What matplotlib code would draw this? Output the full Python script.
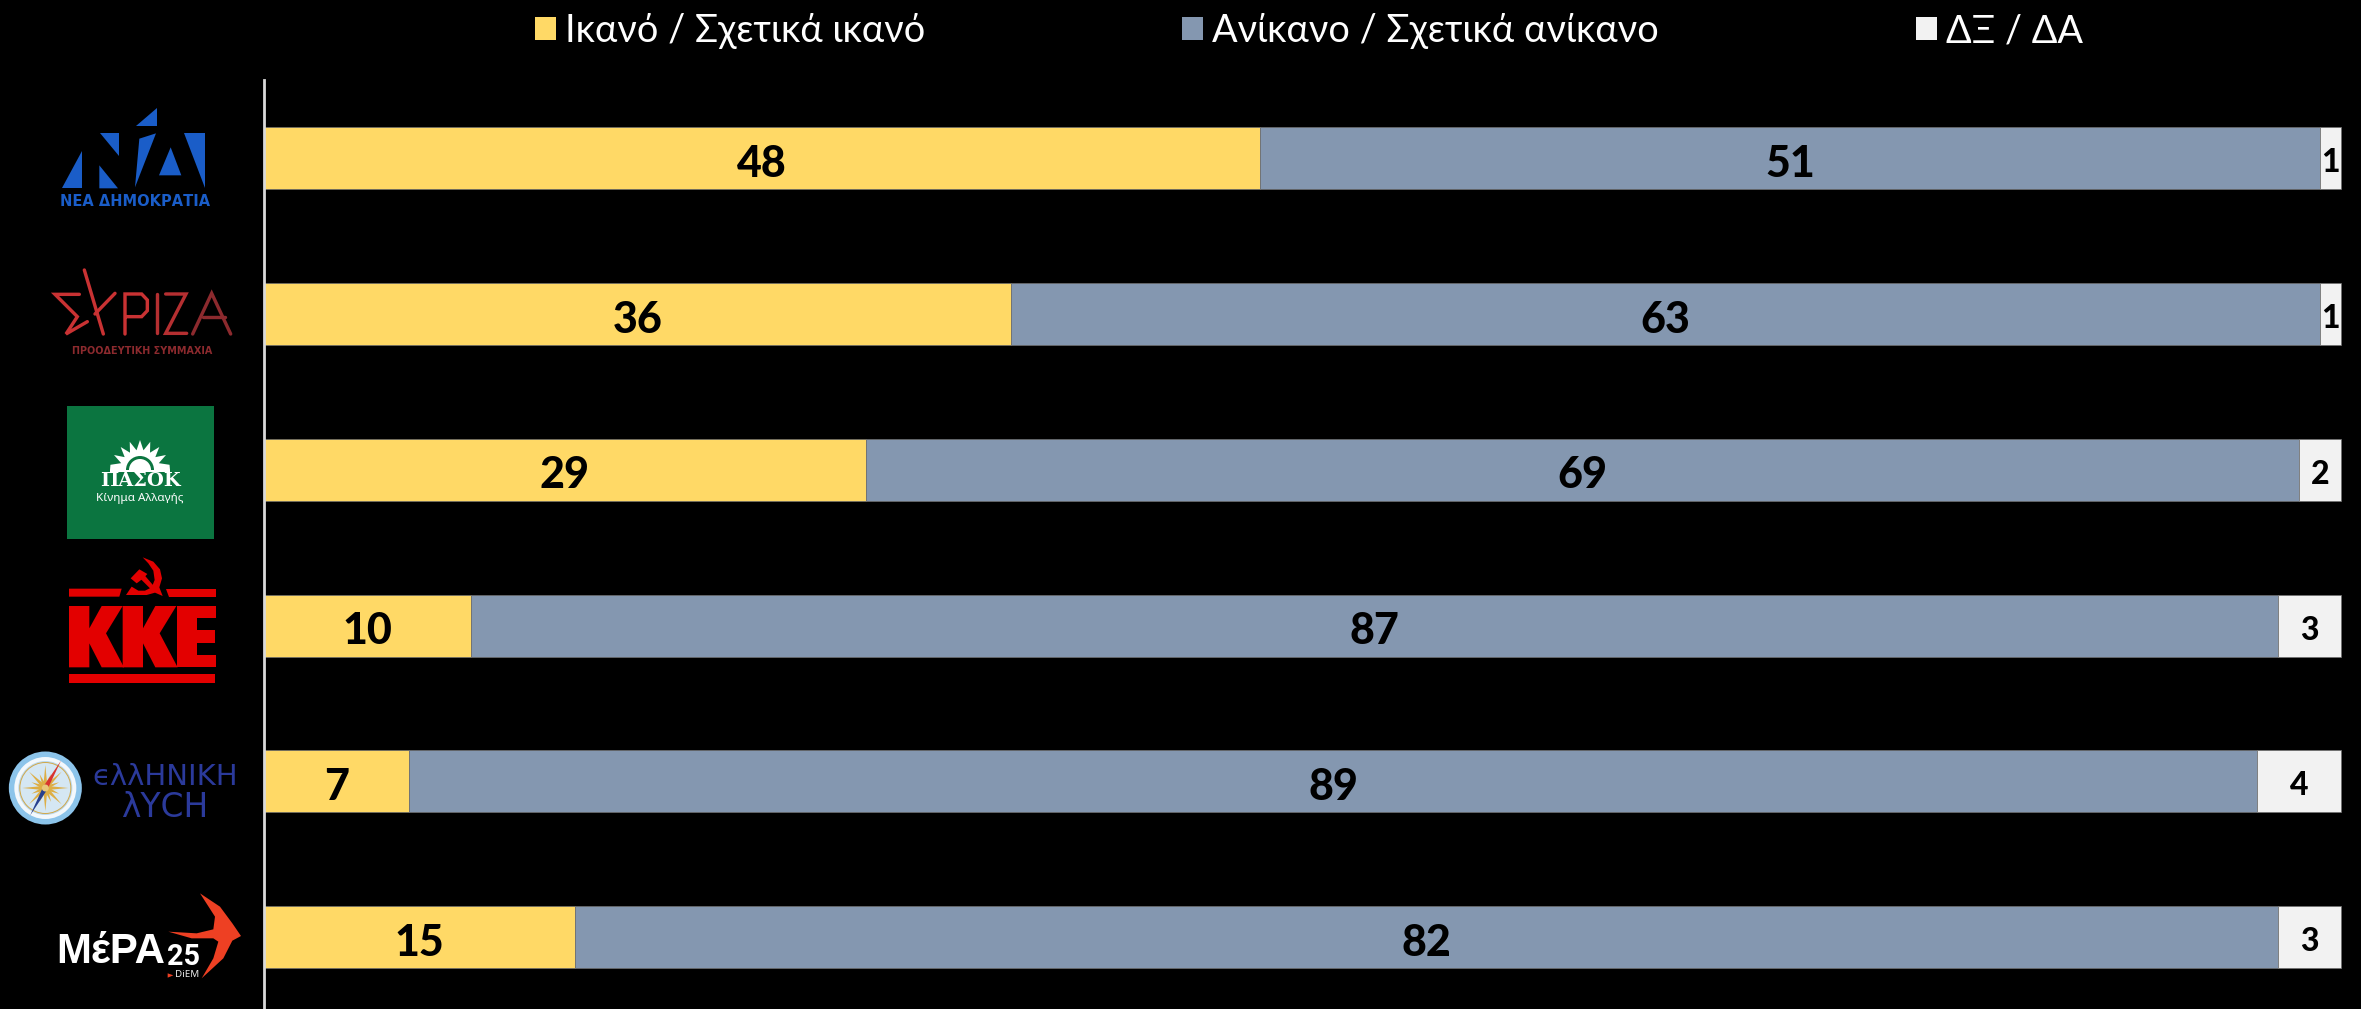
import numpy as np
import matplotlib
matplotlib.use("Agg")
import matplotlib.pyplot as plt
from matplotlib.patches import Polygon, Rectangle, Circle, Wedge

parties = ["ΝΕΑ ΔΗΜΟΚΡΑΤΙΑ", "ΣΥΡΙΖΑ", "ΠΑΣΟΚ", "ΚΚΕ", "ΕΛΛΗΝΙΚΗ ΛΥΣΗ", "ΜέΡΑ25"]
capable = [48, 36, 29, 10, 7, 15]
incapable = [51, 63, 69, 87, 89, 82]
dk_na = [1, 1, 2, 3, 4, 3]
series_names = ["Ικανό / Σχετικά ικανό", "Ανίκανο / Σχετικά ανίκανο", "ΔΞ / ΔΑ"]
series_colors = ["#FFD966", "#8497B0", "#F2F2F2"]

W, H = 2361, 1009
LABEL_FONT = ["Lato", "Noto Sans", "DejaVu Sans"]
LEGEND_FONT = ["Lato", "Noto Sans", "DejaVu Sans"]
fig = plt.figure(figsize=(W / 100, H / 100), dpi=100, facecolor="black")

# --- chart ---------------------------------------------------------------
AX_L, AX_T, PX_UNIT, PX_BAND = 263.5, 80.4, 20.77, 155.75
ax = fig.add_axes([AX_L / W, 0, (W - AX_L) / W, (H - AX_T) / H], facecolor="black")
y = np.arange(len(parties))
left = np.zeros(len(parties))
for vals, name, col in zip([capable, incapable, dk_na], series_names, series_colors):
    ax.barh(y, vals, left=left, height=0.398, color=col, edgecolor="#6f6f6f",
            linewidth=0.5, label=name)
    for yi, l, v in zip(y, left, vals):
        small = v < 5
        ax.annotate(str(v), (l + v / 2, yi), xytext=(0, -1.5), textcoords="offset points",
                    ha="center", va="center_baseline", color="black",
                    fontweight="black", family=LABEL_FONT, fontsize=23 if small else 31)
    left += np.array(vals)

ax.set_xlim(0, (W - AX_L) / PX_UNIT)
ax.set_ylim((H - AX_T) / PX_BAND - 0.5, -0.5)
ax.set_yticks(y, labels=parties)
ax.tick_params(left=False, labelleft=False, bottom=False, labelbottom=False)
for s in ["top", "right", "bottom"]:
    ax.spines[s].set_visible(False)
ax.spines["left"].set_color("#D9D9D9")
ax.spines["left"].set_linewidth(2.0)

FS = 27.3
FPX = FS / 0.72
leg = ax.legend(loc="center left", bbox_to_anchor=(535 / W, 1 - 31 / H),
                bbox_transform=fig.transFigure, ncol=3, frameon=False,
                prop={"family": LEGEND_FONT, "size": FS},
                labelcolor="white", borderpad=0, borderaxespad=0,
                handlelength=21 / FPX, handleheight=21 / FPX,
                handletextpad=9 / FPX, columnspacing=257 / FPX)
for h in leg.legend_handles:
    h.set_edgecolor("none")

# --- logos (pixel overlay) ---------------------------------------------------
ov = fig.add_axes([0, 0, 1, 1], facecolor="none")
ov.set_xlim(0, W)
ov.set_ylim(H, 0)
ov.axis("off")


def z1(p):
    return [(a / 3, 60 + b / 3) for a, b in p]


def z2(p):
    return [(a / 3, 550 + b / 3) for a, b in p]


def z3(p):
    return [(110 + a / 3, 550 + b / 3) for a, b in p]


def poly(pts, col, **kw):
    ov.add_patch(Polygon(pts, closed=True, facecolor=col, edgecolor="none", **kw))


def line(pts, col, lw):
    xs, ys = zip(*pts)
    ov.plot(xs, ys, color=col, lw=lw * 0.72, solid_capstyle="round", solid_joinstyle="miter")


def fit(xc, yc, s, width, col, **kw):
    t = ov.text(xc, yc, s, ha="center", va="center", color=col, fontsize=10, **kw)
    r = fig.canvas.get_renderer()
    t.set_fontsize(10 * width / t.get_window_extent(r).width)
    return t


# Nea Dimokratia
ND = "#1A5DC8"
for tri in [
    [(470, 145), (470, 197), (408, 197)],
    [(246, 272), (246, 385), (186, 385)],
    [(300, 220), (356, 220), (356, 287)],
    [(298, 316), (354, 385), (298, 385)],
    [(468, 220), (418, 236), (405, 382)],
    [(512, 262), (544, 346), (477, 346)],
    [(552, 220), (615, 220), (615, 383)],
]:
    poly(z1(tri), ND)
fit(135.5, 60 + 425 / 3, "ΝΕΑ ΔΗΜΟΚΡΑΤΙΑ", 149, ND, family="DejaVu Sans", fontweight="bold")

# Syriza
SR, SD = "#C93233", "#8C2A2E"
line(z1([(238, 703), (165, 703), (232, 770), (198, 822), (262, 785)]), SR, 3.4)
line(z1([(253, 630), (310, 822)]), SR, 3.4)
line(z1([(345, 700), (285, 762)]), SR, 3.4)
line(z1([(375, 822), (375, 702), (425, 702), (442, 720), (442, 752), (425, 770), (378, 770)]), SR, 3.4)
line(z1([(472, 702), (472, 820)]), "#B52F31", 3.4)
line(z1([(497, 702), (558, 702), (497, 820), (560, 820)]), "#B52F31", 3.4)
line(z1([(578, 822), (635, 700), (692, 822)]), SD, 3.4)
line(z1([(610, 770), (675, 770)]), SD, 3.4)
fit(142.5, 60 + 873 / 3, "ΠΡΟΟΔΕΥΤΙΚΗ ΣΥΜΜΑΧΙΑ", 140, SD, family="DejaVu Sans", fontweight="bold")

# PASOK
PG = "#0B7540"
a, b = z1([(202, 1038)])[0]
ov.add_patch(Rectangle((a, b), 440 / 3, 399 / 3, facecolor=PG, edgecolor="none"))
cx, cy = 140, 470
sun = [(cx - 30, cy)]
for i, ang in enumerate(np.linspace(170, 10, 17)):
    r = 30 if i % 2 == 0 else 20
    sun.append((cx + r * np.cos(np.radians(ang)), cy - r * np.sin(np.radians(ang))))
sun.append((cx + 30, cy))
poly(sun, "white")
ov.add_patch(Wedge((cx, cy), 14, 180, 360, facecolor=PG, edgecolor="none"))
ov.add_patch(Wedge((cx, cy), 11, 180, 360, facecolor="white", edgecolor="none"))
ov.add_patch(Rectangle((cx - 30, cy - 0.5), 60, 2, facecolor="white"))
fit(140, 481.5, "ΠΑΣΟΚ", 81, "white", family="DejaVu Serif", fontweight="bold")
ov.add_patch(Rectangle((100, 490.5), 81, 0.8, facecolor="white"))
fit(140, 499, "Κίνημα Αλλαγής", 87, "white", family="Noto Sans")

# KKE
KR = "#E30000"
for rect in [[(207, 116), (365, 116), (358, 140), (207, 140)],
             [(497, 116), (648, 116), (648, 140), (508, 140)],
             [(207, 372), (645, 372), (645, 398), (207, 398)],
             [(530, 168), (647, 168), (647, 205), (592, 205), (592, 240), (645, 240),
              (645, 278), (592, 278), (592, 315), (647, 315), (647, 352), (530, 352)]]:
    poly(z2(rect), KR)
for dx in [0, 161]:
    poly(z2([(207 + dx, 168), (268 + dx, 168), (268 + dx, 235), (305 + dx, 168), (368 + dx, 168),
             (318 + dx, 250), (372 + dx, 352), (305 + dx, 352), (268 + dx, 280), (268 + dx, 352),
             (207 + dx, 352)]), KR)
poly(z3([(98, 22), (130, 35), (150, 58), (156, 85), (148, 112), (158, 138), (135, 128), (110, 135),
         (48, 135), (65, 110), (85, 122), (105, 122), (125, 112), (134, 90), (130, 62), (115, 40)]), KR)
poly(z3([(62, 85), (88, 58), (112, 72), (100, 85), (80, 100)]), KR)
poly(z3([(90, 85), (103, 75), (140, 118), (130, 125)]), KR)

# Elliniki Lysi
cx, cy = z2([(136, 714)])[0]
for r, fc in [(36.5, "#8CC4EA"), (31, "#F3F8FC"), (27, "#BBD9EE"), (26, "#D2A94B"), (25, "#D5E7F3")]:
    ov.add_patch(Circle((cx, cy), r, facecolor=fc, edgecolor="none"))
for k in range(16):
    ang = np.radians(k * 22.5)
    r = 23 if k % 2 == 0 else 15
    perp = ang + np.pi / 2
    poly([(cx + r * np.cos(ang), cy + r * np.sin(ang)),
          (cx + 2.2 * np.cos(perp), cy + 2.2 * np.sin(perp)),
          (cx - 2.2 * np.cos(perp), cy - 2.2 * np.sin(perp))], "#DDAE45")
nx, ny = z2([(183, 632)])[0]
mx, my = z2([(90, 797)])[0]
dx, dy = -(ny - cy), nx - cx
nrm = 2.5 / np.hypot(dx, dy)
poly([(nx, ny), (cx + dx * nrm, cy + dy * nrm), (cx - dx * nrm, cy - dy * nrm)], "#D8342F")
poly([(mx, my), (cx + dx * nrm, cy + dy * nrm), (cx - dx * nrm, cy - dy * nrm)], "#27408F")
ov.add_patch(Circle((cx, cy), 3.5, facecolor="#E8C77A", edgecolor="none"))
EL = "#2B3A9B"
fit(165.5, 550 + 680 / 3, "ϵλλΗΝΙΚΗ", 145, EL, family="DejaVu Sans")
fit(165, 550 + 773 / 3, "λΥCΗ", 87, EL, family="DejaVu Sans")

# MeRA25
fit(110.5, 550 + 1205 / 3, "ΜέΡΑ", 109, "white", family="Liberation Sans", fontweight="bold")
fit(183, 550 + 1222 / 3, "25", 33, "white", family="Roboto", fontweight="bold")
fit(187, 550 + 1274 / 3, "DiEM", 24, "#E9E9E9", family="Noto Sans")
poly(z2([(503, 1270), (520, 1276), (503, 1283)]), "#EE4023")
poly(z2([(600, 1030), (660, 1070), (697, 1120), (723, 1158), (697, 1172), (670, 1225), (605, 1285),
         (640, 1225), (655, 1175), (640, 1165), (575, 1165), (505, 1145), (590, 1150),
         (640, 1138), (645, 1100)]), "#EE4023")

fig.savefig("out.png", dpi=100, facecolor="black")
